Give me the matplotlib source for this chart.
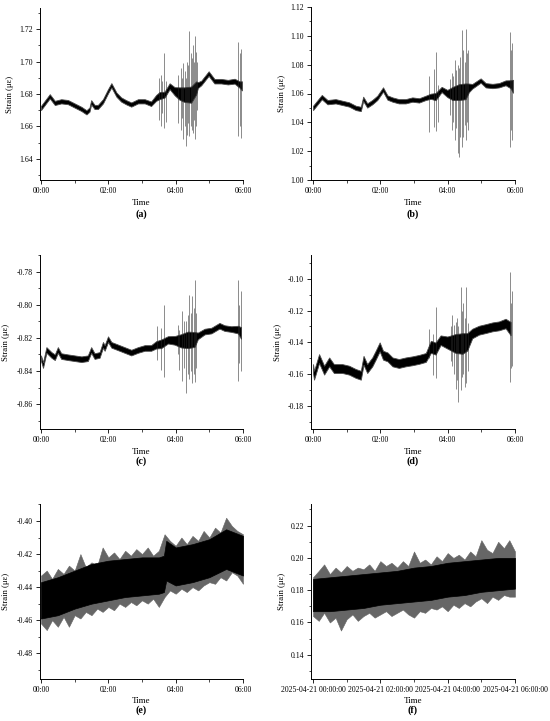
import matplotlib.pyplot as plt
from matplotlib.ticker import AutoMinorLocator, MultipleLocator, FormatStrFormatter

plt.rcParams['font.family'] = ['Liberation Serif', 'DejaVu Serif']

# ---------------- panel (a) ----------------
t_a = [0.00, 0.26, 0.41, 0.60, 0.80, 1.00, 1.20, 1.35, 1.44, 1.49,
       1.59, 1.69, 1.84, 1.99, 2.09, 2.24, 2.38, 2.53, 2.68, 2.88,
       3.08, 3.27, 3.42, 3.52, 3.67, 3.82, 3.97, 4.11, 4.26, 4.46,
       4.61, 4.66, 4.76, 4.98, 5.15, 5.35, 5.55, 5.75, 5.90, 5.97]
mid_a = [1.6714, 1.6786, 1.6745, 1.6755, 1.6750, 1.6729, 1.6708, 1.6687, 1.6704, 1.6749,
         1.6720, 1.6720, 1.6755, 1.6817, 1.6854, 1.6796, 1.6766, 1.6749, 1.6735, 1.6755,
         1.6755, 1.6740, 1.6776, 1.6790, 1.6796, 1.6848, 1.6817, 1.6803, 1.6796, 1.6796,
         1.6838, 1.6855, 1.6868, 1.6926, 1.6879, 1.6879, 1.6873, 1.6879, 1.6858, 1.6850]
half_a = [0.0013, 0.0013, 0.0013, 0.0013, 0.0013, 0.0013, 0.0013, 0.0013, 0.0013, 0.0013,
          0.0013, 0.0013, 0.0013, 0.0013, 0.0013, 0.0013, 0.0013, 0.0013, 0.0013, 0.0013,
          0.0013, 0.0014, 0.0018, 0.0022, 0.0018, 0.0018, 0.0025, 0.0038, 0.0045, 0.0050,
          0.0040, 0.0018, 0.0014, 0.0014, 0.0014, 0.0014, 0.0014, 0.0015, 0.0020, 0.0028]
spk_t_a = [3.50, 3.55, 3.60, 3.65, 3.72, 4.08, 4.15, 4.19, 4.23, 4.27, 4.30, 4.35, 4.38,
           4.41, 4.45, 4.48, 4.51, 4.53, 4.56, 4.60, 4.63, 5.85, 5.90, 5.94]
spk_lo_a = [1.664, 1.660, 1.668, 1.659, 1.663, 1.662, 1.658, 1.665, 1.652, 1.660, 1.648, 1.655, 1.662,
            1.654, 1.660, 1.658, 1.656, 1.664, 1.652, 1.660, 1.670, 1.654, 1.660, 1.653]
spk_hi_a = [1.690, 1.692, 1.688, 1.705, 1.688, 1.692, 1.696, 1.690, 1.699, 1.694, 1.690, 1.700, 1.698,
            1.719, 1.705, 1.702, 1.710, 1.700, 1.716, 1.706, 1.700, 1.712, 1.705, 1.708]

# ---------------- panel (b) ----------------
t_b = [0.00, 0.26, 0.43, 0.67, 0.87, 1.07, 1.27, 1.42, 1.49, 1.61,
       1.76, 1.91, 2.08, 2.21, 2.36, 2.55, 2.75, 2.95, 3.15, 3.35,
       3.50, 3.64, 3.82, 3.99, 4.14, 4.34, 4.53, 4.63, 4.73, 4.98,
       5.13, 5.33, 5.52, 5.72, 5.87, 5.94]
mid_b = [1.0500, 1.0575, 1.0540, 1.0546, 1.0535, 1.0524, 1.0500, 1.0493, 1.0563, 1.0517,
         1.0540, 1.0570, 1.0628, 1.0572, 1.0558, 1.0546, 1.0546, 1.0558, 1.0552, 1.0570,
         1.0581, 1.0578, 1.0628, 1.0600, 1.0600, 1.0610, 1.0615, 1.0639, 1.0650, 1.0690,
         1.0657, 1.0652, 1.0657, 1.0674, 1.0664, 1.0650]
half_b = [0.0015, 0.0015, 0.0015, 0.0015, 0.0015, 0.0015, 0.0015, 0.0015, 0.0015, 0.0015,
          0.0015, 0.0015, 0.0015, 0.0015, 0.0015, 0.0015, 0.0015, 0.0015, 0.0015, 0.0015,
          0.0018, 0.0025, 0.0018, 0.0025, 0.0045, 0.0055, 0.0055, 0.0030, 0.0016, 0.0015,
          0.0015, 0.0015, 0.0015, 0.0017, 0.0028, 0.0045]
spk_t_b = [3.46, 3.59, 3.66, 3.72, 4.08, 4.12, 4.17, 4.21, 4.26, 4.31, 4.34, 4.38, 4.42,
           4.47, 4.50, 4.55, 4.58, 4.61, 5.86, 5.89, 5.92]
spk_lo_b = [1.033, 1.037, 1.034, 1.040, 1.045, 1.035, 1.040, 1.028, 1.036, 1.019, 1.016, 1.030, 1.023,
            1.030, 1.038, 1.028, 1.040, 1.035, 1.023, 1.035, 1.028]
spk_hi_b = [1.072, 1.077, 1.089, 1.066, 1.070, 1.074, 1.072, 1.083, 1.076, 1.080, 1.078, 1.085, 1.104,
            1.090, 1.082, 1.105, 1.088, 1.090, 1.103, 1.090, 1.095]

# ---------------- panel (c) ----------------
t_c = [0.00, 0.06, 0.16, 0.31, 0.41, 0.50, 0.60, 0.80, 1.00, 1.20,
       1.39, 1.49, 1.59, 1.74, 1.84, 1.89, 1.99, 2.09, 2.28, 2.48,
       2.68, 2.88, 3.08, 3.27, 3.42, 3.57, 3.77, 3.97, 4.16, 4.36,
       4.56, 4.66, 4.86, 5.06, 5.30, 5.45, 5.65, 5.85, 5.94]
mid_c = [-0.8323, -0.8364, -0.8273, -0.8303, -0.8317, -0.8273, -0.8310, -0.8317, -0.8323, -0.8329,
         -0.8323, -0.8273, -0.8310, -0.8303, -0.8242, -0.8261, -0.8208, -0.8242, -0.8257, -0.8273,
         -0.8289, -0.8273, -0.8261, -0.8261, -0.8242, -0.8236, -0.8212, -0.8215, -0.8218, -0.8212,
         -0.8210, -0.8188, -0.8162, -0.8156, -0.8127, -0.8141, -0.8147, -0.8150, -0.8170]
half_c = [0.0017, 0.0017, 0.0017, 0.0017, 0.0017, 0.0017, 0.0017, 0.0017, 0.0017, 0.0017,
          0.0017, 0.0017, 0.0017, 0.0017, 0.0017, 0.0017, 0.0017, 0.0017, 0.0017, 0.0017,
          0.0017, 0.0017, 0.0017, 0.0017, 0.0022, 0.0026, 0.0022, 0.0026, 0.0040, 0.0050,
          0.0045, 0.0020, 0.0017, 0.0017, 0.0017, 0.0017, 0.0017, 0.0023, 0.0035]
spk_t_c = [3.45, 3.55, 3.65, 4.06, 4.11, 4.19, 4.25, 4.31, 4.36, 4.41, 4.45, 4.49, 4.53, 4.56, 4.60,
           5.85, 5.89, 5.93]
spk_lo_c = [-0.8333, -0.8394, -0.8434, -0.8300, -0.8394, -0.8458, -0.8380, -0.8535, -0.8420, -0.8450,
            -0.8400, -0.8470, -0.8420, -0.8464, -0.8380, -0.8459, -0.8350, -0.8400]
spk_hi_c = [-0.8131, -0.8140, -0.8000, -0.8120, -0.8150, -0.8040, -0.8100, -0.8100, -0.8060, -0.7940,
            -0.8050, -0.7950, -0.8020, -0.7849, -0.8050, -0.7850, -0.8000, -0.7919]

# ---------------- panel (d) ----------------
t_d = [0.00, 0.03, 0.18, 0.33, 0.48, 0.62, 0.87, 1.07, 1.27, 1.42,
       1.50, 1.61, 1.76, 1.86, 1.98, 2.08, 2.21, 2.36, 2.55, 2.75,
       2.95, 3.15, 3.35, 3.50, 3.64, 3.79, 3.99, 4.24, 4.44, 4.58,
       4.73, 4.93, 5.13, 5.33, 5.52, 5.72, 5.87]
mid_d = [-0.1566, -0.1608, -0.1503, -0.1576, -0.1524, -0.1566, -0.1566, -0.1576, -0.1597, -0.1608,
         -0.1514, -0.1566, -0.1524, -0.1482, -0.1429, -0.1482, -0.1492, -0.1524, -0.1534, -0.1524,
         -0.1517, -0.1508, -0.1496, -0.1429, -0.1440, -0.1387, -0.1402, -0.1408, -0.1408, -0.1398,
         -0.1345, -0.1324, -0.1314, -0.1303, -0.1297, -0.1282, -0.1314]
half_d = [0.0028, 0.0028, 0.0028, 0.0028, 0.0028, 0.0028, 0.0028, 0.0028, 0.0028, 0.0028,
          0.0028, 0.0028, 0.0028, 0.0028, 0.0028, 0.0028, 0.0028, 0.0028, 0.0028, 0.0028,
          0.0028, 0.0028, 0.0028, 0.0038, 0.0038, 0.0030, 0.0038, 0.0060, 0.0065, 0.0055,
          0.0030, 0.0028, 0.0028, 0.0028, 0.0028, 0.0030, 0.0042]
spk_t_d = [3.45, 3.56, 3.64, 4.09, 4.14, 4.19, 4.24, 4.28, 4.32, 4.39, 4.43, 4.47, 4.51, 4.55, 4.59,
           5.86, 5.89, 5.92]
spk_lo_d = [-0.1500, -0.1608, -0.1623, -0.1520, -0.1550, -0.1600, -0.1692, -0.1640, -0.1776, -0.1700,
            -0.1620, -0.1600, -0.1680, -0.1657, -0.1580, -0.1650, -0.1560, -0.1550]
spk_hi_d = [-0.1314, -0.1350, -0.1177, -0.1300, -0.1230, -0.1290, -0.1270, -0.1250, -0.1300, -0.1051,
            -0.1200, -0.1150, -0.1250, -0.1051, -0.1280, -0.0956, -0.1150, -0.1080]

# ---------------- panels (e) and (f): noisy envelopes ----------------
t_edge = [0.00, 0.17, 0.33, 0.50, 0.67, 0.83, 1.00, 1.17, 1.33, 1.50, 1.67, 1.83,
          2.00, 2.17, 2.33, 2.50, 2.67, 2.83, 3.00, 3.17, 3.33, 3.50, 3.67, 3.83,
          4.00, 4.17, 4.33, 4.50, 4.67, 4.83, 5.00, 5.17, 5.33, 5.50, 5.67, 5.83, 6.00]
e_hi_out = [-0.433, -0.430, -0.435, -0.429, -0.432, -0.427, -0.430, -0.420, -0.428, -0.425, -0.427, -0.416,
            -0.422, -0.419, -0.423, -0.418, -0.421, -0.417, -0.420, -0.416, -0.421, -0.418, -0.408, -0.412,
            -0.415, -0.410, -0.414, -0.409, -0.412, -0.406, -0.410, -0.404, -0.407, -0.398, -0.403, -0.406, -0.408]
e_lo_out = [-0.462, -0.466, -0.460, -0.464, -0.458, -0.464, -0.457, -0.459, -0.455, -0.457, -0.453, -0.455,
            -0.452, -0.454, -0.450, -0.452, -0.449, -0.451, -0.448, -0.450, -0.447, -0.452, -0.446, -0.442,
            -0.444, -0.441, -0.443, -0.440, -0.442, -0.439, -0.437, -0.438, -0.434, -0.436, -0.431, -0.433, -0.438]
t_e_in = [0.00, 0.50, 1.00, 1.50, 2.00, 2.50, 3.00, 3.50, 3.65, 3.72, 4.00, 4.50, 5.00, 5.50, 6.00]
e_hi_in = [-0.437, -0.434, -0.430, -0.426, -0.424, -0.423, -0.422, -0.422, -0.421, -0.412, -0.416, -0.414, -0.411, -0.405, -0.409]
e_lo_in = [-0.459, -0.457, -0.453, -0.450, -0.448, -0.446, -0.445, -0.444, -0.443, -0.436, -0.439, -0.437, -0.434, -0.429, -0.433]

f_hi_out = [0.188, 0.192, 0.196, 0.190, 0.194, 0.191, 0.195, 0.192, 0.194, 0.193, 0.196, 0.192,
            0.198, 0.195, 0.197, 0.194, 0.198, 0.195, 0.204, 0.197, 0.199, 0.196, 0.201, 0.198,
            0.203, 0.200, 0.202, 0.199, 0.204, 0.201, 0.211, 0.205, 0.203, 0.210, 0.206, 0.211, 0.204]
f_lo_out = [0.164, 0.161, 0.166, 0.160, 0.163, 0.155, 0.162, 0.165, 0.161, 0.164, 0.166, 0.163,
            0.165, 0.167, 0.164, 0.166, 0.168, 0.165, 0.163, 0.167, 0.166, 0.169, 0.168, 0.170,
            0.167, 0.171, 0.169, 0.172, 0.170, 0.173, 0.175, 0.172, 0.176, 0.174, 0.177, 0.176, 0.176]
t_f_in = [0.00, 0.50, 1.00, 1.50, 2.00, 2.50, 3.00, 3.50, 4.00, 4.50, 5.00, 5.50, 6.00]
f_hi_in = [0.187, 0.188, 0.189, 0.190, 0.191, 0.192, 0.194, 0.195, 0.197, 0.198, 0.199, 0.200, 0.200]
f_lo_in = [0.167, 0.167, 0.168, 0.169, 0.171, 0.172, 0.173, 0.174, 0.176, 0.177, 0.179, 0.180, 0.181]

hour_ticks = [0, 2, 4, 6]
hour_labels = ["00:00", "02:00", "04:00", "06:00"]
date_labels = ["2025-04-21 00:00:00", "2025-04-21 02:00:00",
               "2025-04-21 04:00:00", "2025-04-21 06:00:00"]

fig = plt.figure(figsize=(5.5, 7.21), dpi=100)
W, H = 550.0, 721.0


def make_axes(left, top, right, bottom):
    return fig.add_axes([left / W, 1 - bottom / H, (right - left) / W, (bottom - top) / H])


def style(ax, xmin, ylim, yticks, xlabels, letter, ylab_dx, time_dy, letter_dy):
    ax.set_xlim(xmin, 6.0)
    ax.set_ylim(*ylim)
    ax.set_yticks(yticks)
    ax.yaxis.set_major_formatter(FormatStrFormatter('%.2f'))
    ax.yaxis.set_minor_locator(AutoMinorLocator(2))
    ax.set_xticks(hour_ticks)
    ax.set_xticklabels(xlabels)
    ax.xaxis.set_minor_locator(MultipleLocator(1))
    for s in ['top', 'right']:
        ax.spines[s].set_visible(False)
    for s in ['left', 'bottom']:
        ax.spines[s].set_linewidth(0.7)
    ax.tick_params(which='major', direction='out', length=3, width=0.6, labelsize=5.6, pad=2)
    ax.tick_params(which='minor', direction='out', length=1.8, width=0.5)
    bb = ax.get_position()
    wpx = bb.width * W
    hpx = bb.height * H
    ax.set_ylabel("Strain (\u03bc\u03b5)", fontsize=6.2)
    ax.yaxis.set_label_coords(-ylab_dx / wpx, 0.5)
    ax.text(0.5, -time_dy / hpx, "Time", transform=ax.transAxes, ha='center', va='center', fontsize=6.5)
    ax.text(0.5, -letter_dy / hpx, letter, transform=ax.transAxes, ha='center', va='center',
            fontsize=7.2, fontweight='bold')


def band_plot(ax, t, mid, half, st, slo, shi):
    lo = [m - h for m, h in zip(mid, half)]
    hi = [m + h for m, h in zip(mid, half)]
    ax.vlines(st, slo, shi, color='0.15', linewidth=0.5, alpha=0.75)
    ax.fill_between(t, lo, hi, color='black', edgecolor='0.3', linewidth=0.6)


ax_a = make_axes(40, 8, 243, 180)
band_plot(ax_a, t_a, mid_a, half_a, spk_t_a, spk_lo_a, spk_hi_a)
style(ax_a, -0.03, (1.627, 1.733), [1.64, 1.66, 1.68, 1.70, 1.72], hour_labels, "(a)", 26, 23, 34)

ax_b = make_axes(311, 7, 515, 180)
band_plot(ax_b, t_b, mid_b, half_b, spk_t_b, spk_lo_b, spk_hi_b)
style(ax_b, -0.06, (1.00, 1.12), [1.00, 1.02, 1.04, 1.06, 1.08, 1.10, 1.12], hour_labels, "(b)", 25, 23, 34)

ax_c = make_axes(40, 255, 243, 429)
band_plot(ax_c, t_c, mid_c, half_c, spk_t_c, spk_lo_c, spk_hi_c)
style(ax_c, -0.03, (-0.875, -0.770), [-0.86, -0.84, -0.82, -0.80, -0.78], hour_labels, "(c)", 30, 23, 32)

ax_d = make_axes(311, 255, 515, 429)
band_plot(ax_d, t_d, mid_d, half_d, spk_t_d, spk_lo_d, spk_hi_d)
style(ax_d, -0.06, (-0.1947, -0.085), [-0.18, -0.16, -0.14, -0.12, -0.10], hour_labels, "(d)", 29, 23, 32)

ax_e = make_axes(40, 504, 243, 679)
ax_e.fill_between(t_edge, e_lo_out, e_hi_out, color='0.4', linewidth=0.4)
ax_e.fill_between(t_e_in, e_lo_in, e_hi_in, color='black', linewidth=0.5)
style(ax_e, -0.03, (-0.4956, -0.3897), [-0.48, -0.46, -0.44, -0.42, -0.40], hour_labels, "(e)", 30, 22, 31)

ax_f = make_axes(311, 504, 515, 679)
ax_f.fill_between(t_edge, f_lo_out, f_hi_out, color='0.4', linewidth=0.4)
ax_f.fill_between(t_f_in, f_lo_in, f_hi_in, color='black', linewidth=0.5)
style(ax_f, -0.06, (0.125, 0.2334), [0.14, 0.16, 0.18, 0.20, 0.22], date_labels, "(f)", 25, 22, 31)

fig.savefig('out.png', dpi=100)
